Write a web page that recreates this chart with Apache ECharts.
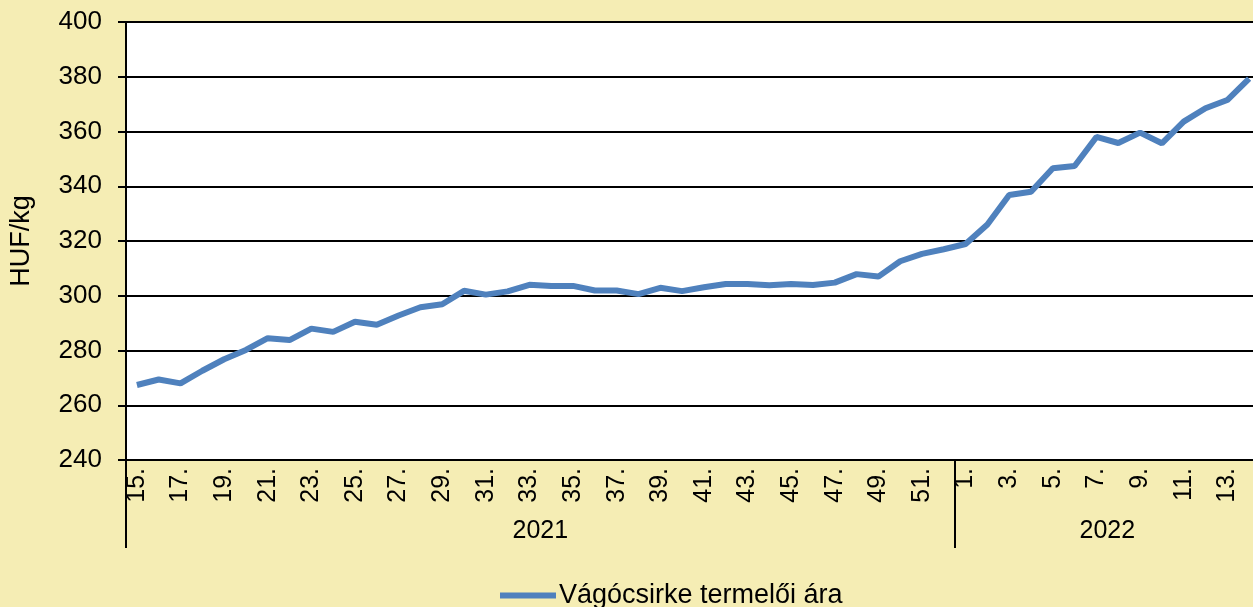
<!DOCTYPE html>
<html>
<head>
<meta charset="utf-8">
<script src="https://cdn.jsdelivr.net/npm/echarts@6/dist/echarts.min.js"></script>
<style>
  html, body { margin: 0; padding: 0; background: #F5EDB4; overflow: hidden; }
  /* a rajzterület jobbra kilóg, mint az eredeti ábrán */
  #main { width: 1260px; height: 607px; }
</style>
</head>
<body>
<div id="main"></div>
<script>
// hetek (2021: 15-52, 2022: 1-14)
const weeks = [
  '15.', '16.', '17.', '18.', '19.', '20.', '21.', '22.', '23.', '24.',
  '25.', '26.', '27.', '28.', '29.', '30.', '31.', '32.', '33.', '34.',
  '35.', '36.', '37.', '38.', '39.', '40.', '41.', '42.', '43.', '44.',
  '45.', '46.', '47.', '48.', '49.', '50.', '51.', '52.',
  '1.', '2.', '3.', '4.', '5.', '6.', '7.', '8.', '9.', '10.',
  '11.', '12.', '13.', '14.'
];
const years = ['2021', '2022'];
const yearWeekCounts = [38, 14];

// Vágócsirke termelői ára, HUF/kg
const prices = [
  267.4, 269.4, 268.0, 272.6, 276.8, 280.2, 284.5, 283.8, 288.0, 286.8,
  290.5, 289.4, 292.8, 295.8, 296.9, 301.8, 300.4, 301.6, 304.0, 303.6,
  303.6, 301.9, 301.9, 300.6, 302.9, 301.7, 303.1, 304.3, 304.3, 303.8,
  304.3, 303.9, 304.8, 307.9, 307.0, 312.6,
  315.3, 317.0,
  318.9, 326.0, 336.8, 338.0, 346.6, 347.4, 358.0, 355.8, 359.6, 355.7,
  363.6, 368.5, 371.5, 379.3
];

const seriesName = 'Vágócsirke termelői ára';
const font = '"Liberation Sans", Arial, sans-serif';

// évhatárok és évközepek a második tengelyhez
const yearBounds = [0];
const yearMids = [];
yearWeekCounts.forEach((n, i) => {
  const start = yearBounds[i];
  yearBounds.push(start + n);
  yearMids.push(start + n / 2);
});

const myChart = echarts.init(document.getElementById('main'));
myChart.setOption({
  backgroundColor: '#F5EDB4',
  animation: false,
  textStyle: { fontFamily: font },
  grid: {
    left: 126,
    top: 22,
    right: 0,
    bottom: 147,
    outerBoundsMode: 'none',
    containLabel: false,
    backgroundColor: '#ffffff',
    show: true,
    borderWidth: 0
  },
  legend: {
    left: 495,
    top: 577,
    icon: 'path://M0,0 L56,0 L56,6 L0,6 Z',
    itemWidth: 56,
    itemHeight: 6,
    itemGap: 0,
    textStyle: { fontFamily: font, fontSize: 27, color: '#000', padding: [0, 0, 0, -2] },
    data: [seriesName]
  },
  xAxis: [
    {
      type: 'category',
      data: weeks,
      boundaryGap: true,
      axisLine: { lineStyle: { color: '#000', width: 2 } },
      axisTick: { show: false },
      axisLabel: {
        interval: 1,
        rotate: 90,
        margin: 8,
        fontFamily: font,
        fontSize: 25,
        color: '#000'
      }
    },
    {
      type: 'value',
      position: 'bottom',
      offset: 88,
      min: 0,
      max: weeks.length,
      axisLine: { show: false },
      splitLine: { show: false },
      axisTick: {
        show: true,
        inside: true,
        length: 88,
        customValues: yearBounds,
        lineStyle: { color: '#000', width: 2 }
      },
      axisLabel: {
        inside: true,
        margin: 4,
        customValues: yearMids,
        formatter: (v) => years[yearMids.indexOf(v)] || '',
        fontFamily: font,
        fontSize: 25,
        color: '#000'
      }
    }
  ],
  yAxis: {
    type: 'value',
    min: 240,
    max: 400,
    interval: 20,
    name: 'HUF/kg',
    nameLocation: 'middle',
    nameGap: 91,
    nameTextStyle: { fontFamily: font, fontSize: 27, color: '#000' },
    axisLine: { show: true, lineStyle: { color: '#000', width: 2 } },
    axisTick: { show: true, length: 8, lineStyle: { color: '#000', width: 2 } },
    axisLabel: { margin: 24, fontFamily: font, fontSize: 26, color: '#000' },
    splitLine: { lineStyle: { color: '#000', width: 2 } }
  },
  series: [
    {
      name: seriesName,
      type: 'line',
      data: prices,
      symbol: 'none',
      lineStyle: { color: '#4F81BD', width: 6 },
      itemStyle: { color: '#4F81BD' }
    }
  ]
});
</script>
</body>
</html>
